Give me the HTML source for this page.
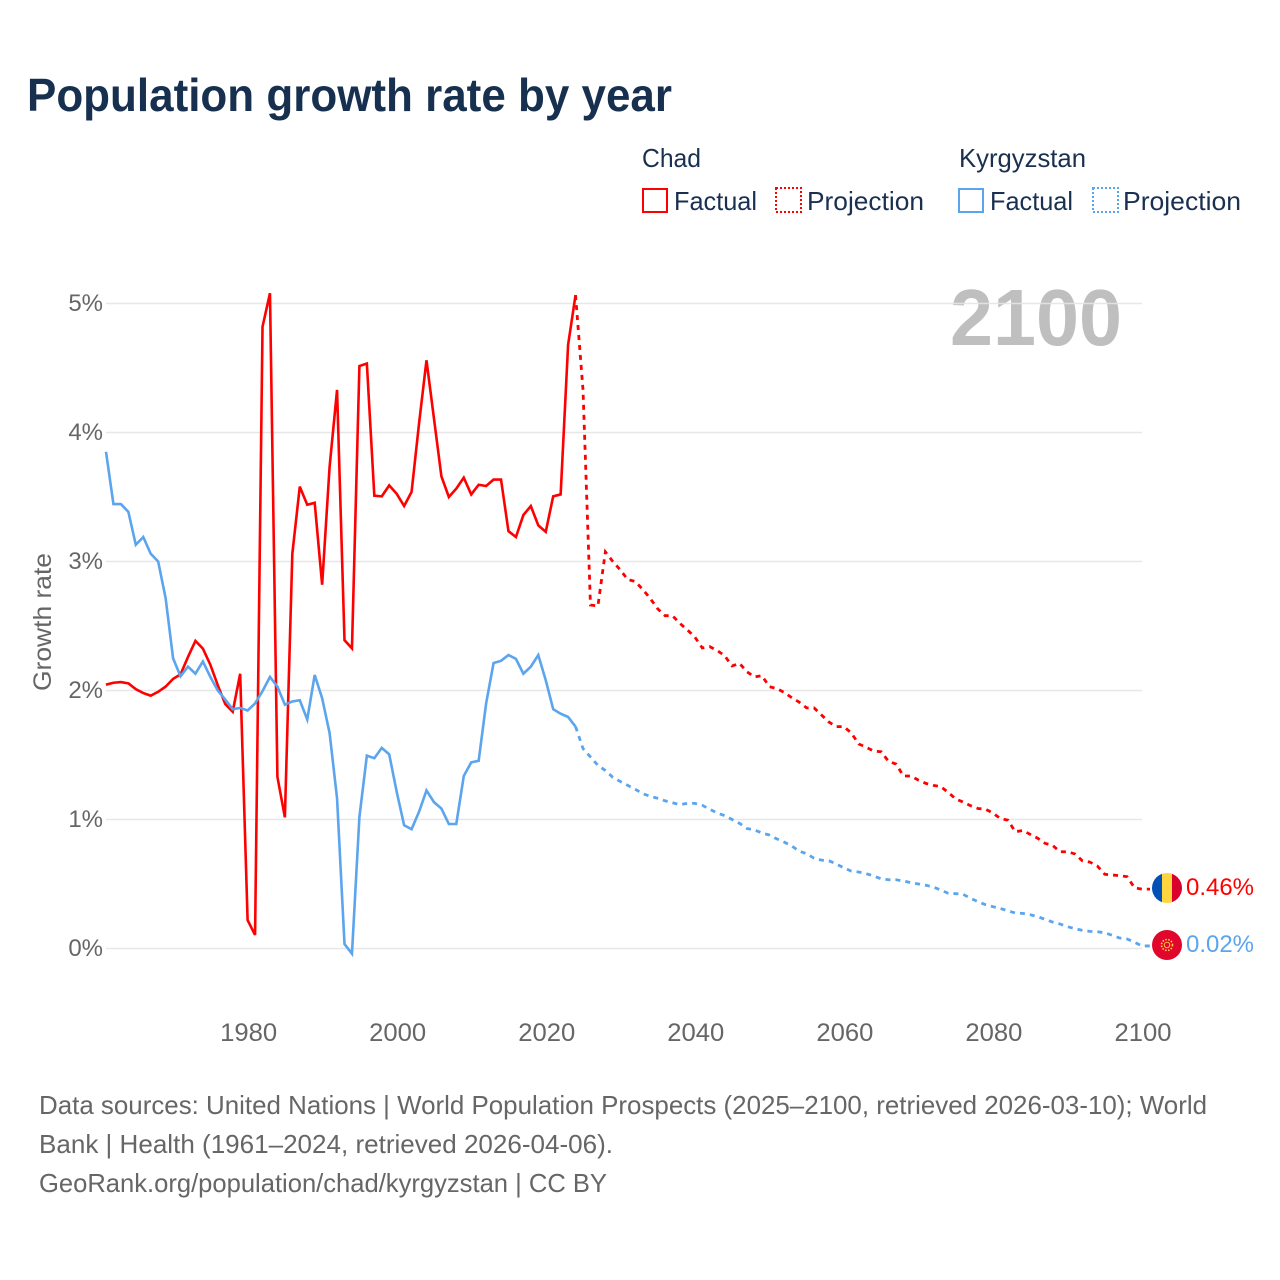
<!DOCTYPE html>
<html lang="en">
<head>
<meta charset="utf-8">
<title>Population growth rate by year</title>
<style>
  html, body { margin: 0; padding: 0; background: #ffffff; }
  svg { display: block; font-family: "Liberation Sans", sans-serif; }
</style>
</head>
<body>
<svg id="chart" width="1280" height="1280" viewBox="0 0 1280 1280" xmlns="http://www.w3.org/2000/svg">
  <rect x="0" y="0" width="1280" height="1280" fill="#ffffff"/>
  <text x="27" y="111" font-size="46" font-weight="700" fill="#17304f" textLength="645" lengthAdjust="spacingAndGlyphs">Population growth rate by year</text>

  <g font-size="26" fill="#1a3050">
    <text x="642" y="167" textLength="59" lengthAdjust="spacingAndGlyphs">Chad</text>
    <text x="959" y="167" textLength="127" lengthAdjust="spacingAndGlyphs">Kyrgyzstan</text>
    <rect x="643" y="189" width="24" height="23" fill="none" stroke="#ff0000" stroke-width="2"/>
    <text x="674" y="210" textLength="83" lengthAdjust="spacingAndGlyphs">Factual</text>
    <rect x="776" y="188" width="25" height="24" fill="none" stroke="#ff0000" stroke-width="2" stroke-dasharray="2 2"/>
    <text x="807" y="210" textLength="117" lengthAdjust="spacingAndGlyphs">Projection</text>
    <rect x="959" y="189" width="24" height="23" fill="none" stroke="#5ba4ee" stroke-width="2"/>
    <text x="990" y="210" textLength="83" lengthAdjust="spacingAndGlyphs">Factual</text>
    <rect x="1093" y="188" width="25" height="24" fill="none" stroke="#5ba4ee" stroke-width="2" stroke-dasharray="2 2"/>
    <text x="1123" y="210" textLength="118" lengthAdjust="spacingAndGlyphs">Projection</text>
  </g>

  <text transform="translate(51,622) rotate(-90)" text-anchor="middle" font-size="25" fill="#666666" textLength="138" lengthAdjust="spacingAndGlyphs">Growth rate</text>

  <text x="1122" y="345" text-anchor="end" font-size="80" font-weight="700" fill="#bfbfbf" textLength="172" lengthAdjust="spacingAndGlyphs">2100</text>

  <g id="grid"></g>
  <g id="y-ticks"></g>
  <g id="x-ticks"></g>

  <g id="series"></g>

  <defs>
    <clipPath id="flag-clip-chad"><circle cx="1167" cy="888" r="15"/></clipPath>
  </defs>
  <g clip-path="url(#flag-clip-chad)">
    <rect x="1152" y="873" width="10" height="30" fill="#0050b5"/>
    <rect x="1162" y="873" width="10" height="30" fill="#ffd53f"/>
    <rect x="1172" y="873" width="10" height="30" fill="#d9002c"/>
  </g>
  <g>
    <circle cx="1167" cy="945" r="15" fill="#e0062c"/>
    <circle cx="1167" cy="945" r="5.5" fill="none" stroke="#ffd53f" stroke-width="1.6" stroke-dasharray="1.5 1.5"/>
    <circle cx="1167" cy="945" r="2.8" fill="none" stroke="#ffd53f" stroke-width="0.9"/>
  </g>
  <g id="end-labels"></g>

  <g font-size="26" fill="#666666">
    <text x="39" y="1114" textLength="1168" lengthAdjust="spacingAndGlyphs">Data sources: United Nations | World Population Prospects (2025–2100, retrieved 2026-03-10); World</text>
    <text x="39" y="1153" textLength="574" lengthAdjust="spacingAndGlyphs">Bank | Health (1961–2024, retrieved 2026-04-06).</text>
    <text x="39" y="1192" textLength="568" lengthAdjust="spacingAndGlyphs">GeoRank.org/population/chad/kyrgyzstan | CC BY</text>
  </g>
</svg>

<script>
const firstYear = 1961;
const yTickValues = [0, 1, 2, 3, 4, 5];
const yTickLabels = ["0%", "1%", "2%", "3%", "4%", "5%"];
const xTickValues = [1980, 2000, 2020, 2040, 2060, 2080, 2100];
const xTickLabels = ["1980", "2000", "2020", "2040", "2060", "2080", "2100"];

const chadFactual = [
  2.045, 2.06, 2.065, 2.055, 2.01, 1.98, 1.96, 1.99, 2.03, 2.09,
  2.125, 2.26, 2.385, 2.325, 2.2, 2.04, 1.895, 1.835, 2.13, 0.22,
  0.105, 4.82, 5.08, 1.33, 1.017, 3.06, 3.58, 3.44, 3.455, 2.82,
  3.735, 4.33, 2.39, 2.327, 4.515, 4.535, 3.51, 3.505, 3.59, 3.525,
  3.43, 3.54, 4.07, 4.56, 4.11, 3.66, 3.5, 3.565, 3.65, 3.52,
  3.595, 3.585, 3.635, 3.635, 3.235, 3.19, 3.36, 3.43, 3.28, 3.23,
  3.505, 3.52, 4.68, 5.065
];

const chadProjection = [
  4.33, 2.663, 2.655, 3.075, 3.0, 2.935, 2.86, 2.845, 2.785, 2.715,
  2.635, 2.58, 2.58, 2.52, 2.47, 2.415, 2.33, 2.34, 2.31, 2.27,
  2.19, 2.21, 2.145, 2.105, 2.115, 2.03, 2.015, 1.985, 1.945, 1.91,
  1.865, 1.865, 1.81, 1.755, 1.72, 1.72, 1.67, 1.585, 1.56, 1.53,
  1.525, 1.45, 1.43, 1.337, 1.337, 1.305, 1.28, 1.265, 1.255, 1.21,
  1.16, 1.135, 1.107, 1.085, 1.08, 1.05, 1.007, 0.995, 0.905, 0.915,
  0.885, 0.855, 0.815, 0.8, 0.75, 0.75, 0.733, 0.68, 0.67, 0.64,
  0.575, 0.57, 0.565, 0.557, 0.47, 0.46
];

const kyrgyzFactual = [
  3.85, 3.445, 3.445, 3.385, 3.13, 3.19, 3.06, 3.0, 2.715, 2.25,
  2.11, 2.185, 2.13, 2.225, 2.105, 2.0, 1.93, 1.855, 1.865, 1.845,
  1.9, 1.995, 2.105, 2.03, 1.89, 1.915, 1.925, 1.775, 2.12, 1.94,
  1.67, 1.165, 0.035, -0.04, 1.02, 1.495, 1.475, 1.555, 1.505, 1.215,
  0.955, 0.925, 1.06, 1.225, 1.135, 1.085, 0.965, 0.965, 1.337, 1.443,
  1.455, 1.9, 2.213, 2.23, 2.275, 2.245, 2.13, 2.185, 2.275, 2.08,
  1.855, 1.82, 1.795, 1.72
];

const kyrgyzProjection = [
  1.55, 1.485, 1.42, 1.38, 1.327, 1.295, 1.265, 1.235, 1.2, 1.18,
  1.165, 1.145, 1.13, 1.115, 1.125, 1.125, 1.11, 1.08, 1.05, 1.03,
  1.0, 0.97, 0.93, 0.92, 0.895, 0.88, 0.85, 0.825, 0.795, 0.755,
  0.735, 0.7, 0.685, 0.68, 0.655, 0.625, 0.6, 0.593, 0.58, 0.562,
  0.54, 0.533, 0.533, 0.523, 0.51, 0.5, 0.49, 0.477, 0.453, 0.428,
  0.425, 0.42, 0.389, 0.363, 0.34, 0.324, 0.31, 0.293, 0.275, 0.272,
  0.262, 0.247, 0.226, 0.205, 0.19, 0.169, 0.154, 0.141, 0.133, 0.13,
  0.122, 0.102, 0.081, 0.074, 0.048, 0.02
];

const chadEndLabel = "0.46%";
const kyrgyzEndLabel = "0.02%";

const SVG_NS = "http://www.w3.org/2000/svg";
const plotLeft = 106;
const plotRight = 1142;
const yearSpan = 2100 - firstYear;
const zeroY = 948.5;
const pxPerPercent = 129;
const RED = "#ff0000";
const BLUE = "#5ba4ee";

function xScale(year) {
  return plotLeft + (year - firstYear) * (plotRight - plotLeft) / yearSpan;
}
function yScale(value) {
  return zeroY - value * pxPerPercent;
}
function svgEl(tag) {
  return document.createElementNS(SVG_NS, tag);
}
function factualPoints(values) {
  return values.map(function (v, i) {
    return [xScale(firstYear + i), yScale(v)];
  });
}
function projectionPoints(factual, projection) {
  const start = firstYear + factual.length - 1;
  const pts = [[xScale(start), yScale(factual[factual.length - 1])]];
  projection.forEach(function (v, i) {
    pts.push([xScale(start + 1 + i), yScale(v)]);
  });
  const last = projection[projection.length - 1];
  pts.push([xScale(start + projection.length) + 8, yScale(last)]);
  return pts;
}
function pathData(points) {
  return points.map(function (p, i) {
    return (i === 0 ? "M" : "L") + p[0].toFixed(2) + " " + p[1].toFixed(2);
  }).join(" ");
}

const gridGroup = document.getElementById("grid");
const yTickGroup = document.getElementById("y-ticks");
const xTickGroup = document.getElementById("x-ticks");
const seriesGroup = document.getElementById("series");
const endLabelGroup = document.getElementById("end-labels");

yTickValues.forEach(function (value, i) {
  const line = svgEl("line");
  
  
  line.setAttribute("x1", plotLeft);
  line.setAttribute("x2", plotRight);
  line.setAttribute("y1", yScale(value));
  line.setAttribute("y2", yScale(value));
  line.setAttribute("stroke", "#e4e4e4");
  line.setAttribute("stroke-opacity", "0.9");
  line.setAttribute("stroke-width", "1.6");
  gridGroup.appendChild(line);

  const label = svgEl("text");
  
  
  label.setAttribute("x", 103);
  label.setAttribute("y", yScale(value) + 7.5);
  label.setAttribute("text-anchor", "end");
  label.setAttribute("font-size", "24");
  label.setAttribute("fill", "#666666");
  label.textContent = yTickLabels[i];
  yTickGroup.appendChild(label);
});

xTickValues.forEach(function (year, i) {
  const label = svgEl("text");
  
  
  label.setAttribute("x", xScale(year) + 1);
  label.setAttribute("y", 1041);
  label.setAttribute("text-anchor", "middle");
  label.setAttribute("font-size", "25");
  label.setAttribute("fill", "#666666");
  label.setAttribute("textLength", "57");
  label.setAttribute("lengthAdjust", "spacingAndGlyphs");
  label.textContent = xTickLabels[i];
  xTickGroup.appendChild(label);
});

const chadFactualPath = svgEl("path");


chadFactualPath.setAttribute("d", pathData(factualPoints(chadFactual)));
chadFactualPath.setAttribute("fill", "none");
chadFactualPath.setAttribute("stroke", RED);
chadFactualPath.setAttribute("stroke-width", "2.6");
chadFactualPath.setAttribute("stroke-linejoin", "miter");
seriesGroup.appendChild(chadFactualPath);

const chadProjectionPath = svgEl("path");


chadProjectionPath.setAttribute("d", pathData(projectionPoints(chadFactual, chadProjection)));
chadProjectionPath.setAttribute("fill", "none");
chadProjectionPath.setAttribute("stroke", RED);
chadProjectionPath.setAttribute("stroke-width", "2.8");
chadProjectionPath.setAttribute("stroke-dasharray", "5 5");
seriesGroup.appendChild(chadProjectionPath);

const kyrgyzFactualPath = svgEl("path");


kyrgyzFactualPath.setAttribute("d", pathData(factualPoints(kyrgyzFactual)));
kyrgyzFactualPath.setAttribute("fill", "none");
kyrgyzFactualPath.setAttribute("stroke", BLUE);
kyrgyzFactualPath.setAttribute("stroke-width", "2.6");
seriesGroup.appendChild(kyrgyzFactualPath);

const kyrgyzProjectionPath = svgEl("path");


kyrgyzProjectionPath.setAttribute("d", pathData(projectionPoints(kyrgyzFactual, kyrgyzProjection)));
kyrgyzProjectionPath.setAttribute("fill", "none");
kyrgyzProjectionPath.setAttribute("stroke", BLUE);
kyrgyzProjectionPath.setAttribute("stroke-width", "2.8");
kyrgyzProjectionPath.setAttribute("stroke-dasharray", "5 5");
seriesGroup.appendChild(kyrgyzProjectionPath);

const chadLabel = svgEl("text");


chadLabel.setAttribute("x", 1186);
chadLabel.setAttribute("y", 895);
chadLabel.setAttribute("font-size", "24");
chadLabel.setAttribute("fill", RED);
chadLabel.setAttribute("textLength", "68");
chadLabel.setAttribute("lengthAdjust", "spacingAndGlyphs");
chadLabel.textContent = chadEndLabel;
endLabelGroup.appendChild(chadLabel);

const kyrgyzLabel = svgEl("text");


kyrgyzLabel.setAttribute("x", 1186);
kyrgyzLabel.setAttribute("y", 952);
kyrgyzLabel.setAttribute("font-size", "24");
kyrgyzLabel.setAttribute("fill", BLUE);
kyrgyzLabel.setAttribute("textLength", "68");
kyrgyzLabel.setAttribute("lengthAdjust", "spacingAndGlyphs");
kyrgyzLabel.textContent = kyrgyzEndLabel;
endLabelGroup.appendChild(kyrgyzLabel);
</script>
</body>
</html>
